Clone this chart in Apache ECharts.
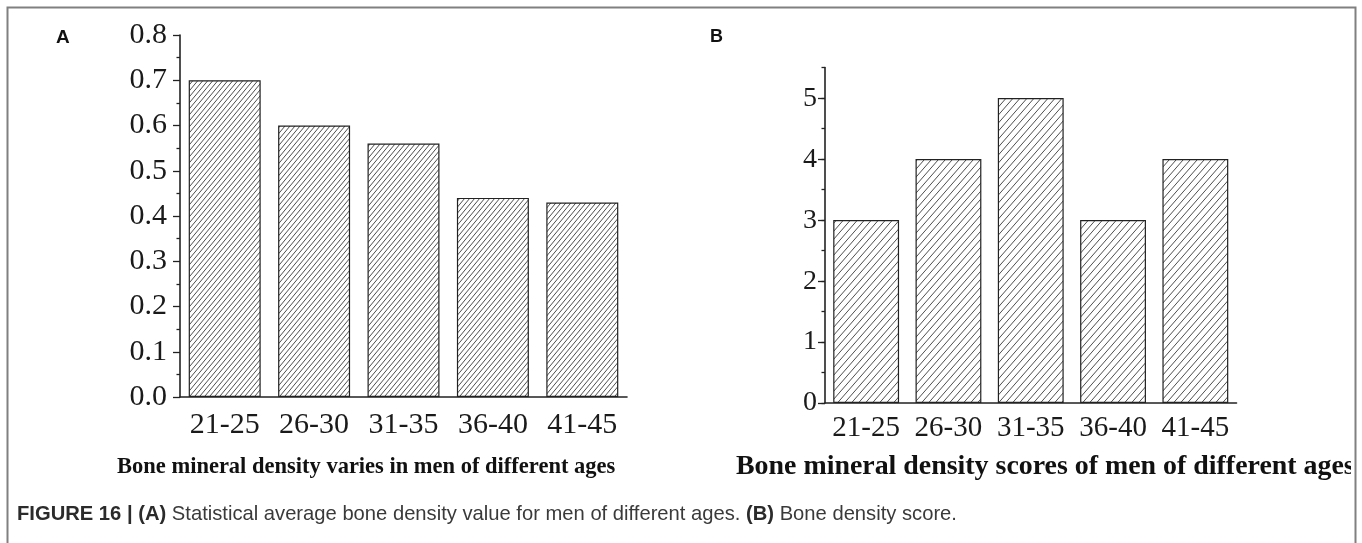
<!DOCTYPE html>
<html>
<head>
<meta charset="utf-8">
<script src="https://cdn.jsdelivr.net/npm/echarts@6/dist/echarts.min.js"></script>
<style>
html,body{margin:0;padding:0;background:#fff;}
#chart{width:1362px;height:543px;}
</style>
</head>
<body>
<div id="chart"></div>
<script>
// ---- data ----
const ageGroups = ['21-25', '26-30', '31-35', '36-40', '41-45'];
const densityValues = [0.70, 0.60, 0.56, 0.44, 0.43];
const densityScores = [3, 4, 5, 3, 4];
const titleA = 'Bone mineral density varies in men of different ages';
const titleB = 'Bone mineral density scores of men of different ages';
const captionBold1 = 'FIGURE 16 | (A)';
const captionText1 = ' Statistical average bone density value for men of different ages. ';
const captionBold2 = '(B)';
const captionText2 = ' Bone density score.';

function hatch(w, h, color) {
  const c = document.createElement('canvas');
  c.width = w; c.height = h;
  const ctx = c.getContext('2d');
  ctx.fillStyle = '#fff';
  ctx.fillRect(0, 0, w, h);
  ctx.strokeStyle = color;
  ctx.lineWidth = 0.9;
  ctx.beginPath();
  ctx.moveTo(-w, 2 * h); ctx.lineTo(2 * w, -h);
  ctx.moveTo(-w, h); ctx.lineTo(w, -h);
  ctx.moveTo(0, 2 * h); ctx.lineTo(2 * w, 0);
  ctx.stroke();
  return c;
}

const serif = '"Liberation Serif", "Times New Roman", serif';
const sans = '"Liberation Sans", Arial, sans-serif';
const axisCol = '#222';

const chart = echarts.init(document.getElementById('chart'), null, {renderer: 'canvas'});

const option = {
  backgroundColor: '#fff',
  animation: false,
  grid: [
    {left: 180, top: 35, width: 447, height: 362},
    {left: 825, top: 67.5, width: 411.5, height: 335.5},
    {left: 825, top: 98.5, width: 411.5, height: 304.5}
  ],
  xAxis: [
    {type: 'category', gridIndex: 0, data: ageGroups,
     axisLine: {lineStyle: {color: axisCol, width: 1.6}},
     axisTick: {alignWithLabel: true, length: 6, lineStyle: {color: axisCol, width: 1.3}},
     axisLabel: {interval: 0, hideOverlap: false, fontFamily: serif, fontSize: 30, color: '#1a1a1a', margin: 13}},
    {type: 'category', gridIndex: 0, data: ageGroups,
     axisLine: {show: false},
     axisTick: {interval: 0, length: 3, lineStyle: {color: axisCol, width: 1.3}},
     axisLabel: {show: false}},
    {type: 'category', gridIndex: 1, data: ageGroups,
     axisLine: {lineStyle: {color: axisCol, width: 1.6}},
     axisTick: {alignWithLabel: true, length: 6, lineStyle: {color: axisCol, width: 1.3}},
     axisLabel: {interval: 0, hideOverlap: false, fontFamily: serif, fontSize: 29, color: '#1a1a1a', margin: 11}},
    {type: 'category', gridIndex: 1, data: ageGroups,
     axisLine: {show: false},
     axisTick: {interval: 0, length: 3, lineStyle: {color: axisCol, width: 1.3}},
     axisLabel: {show: false}},
    {type: 'value', gridIndex: 2, show: false, min: 0, max: 1}
  ],
  yAxis: [
    {type: 'value', gridIndex: 0, min: 0, max: 0.8, interval: 0.1,
     axisLine: {show: true, lineStyle: {color: axisCol, width: 1.6}},
     axisTick: {show: true, length: 7, lineStyle: {color: axisCol, width: 1.3}},
     minorTick: {show: true, splitNumber: 2, length: 3.5, lineStyle: {color: axisCol, width: 1.3}},
     splitLine: {show: false},
     axisLabel: {fontFamily: serif, fontSize: 30, color: '#1a1a1a', margin: 13,
                 formatter: v => v.toFixed(1)}},
    {type: 'value', gridIndex: 1, min: 0, max: 5.5, interval: 0.5,
     axisLine: {show: true, lineStyle: {color: axisCol, width: 1.6}},
     axisTick: {show: true, length: 3.5, lineStyle: {color: axisCol, width: 1.3}},
     splitLine: {show: false},
     axisLabel: {show: false}},
    {type: 'value', gridIndex: 2, min: 0, max: 5, interval: 1,
     axisLine: {show: false},
     axisTick: {show: true, length: 7, lineStyle: {color: axisCol, width: 1.3}},
     splitLine: {show: false},
     axisLabel: {fontFamily: serif, fontSize: 28, color: '#1a1a1a', margin: 8}}
  ],
  series: [
    {type: 'bar', xAxisIndex: 0, yAxisIndex: 0, data: densityValues,
     barCategoryGap: '19.5%',
     itemStyle: {color: {image: hatch(5, 6, '#3a3a3a'), repeat: 'repeat'},
                 borderColor: '#222', borderWidth: 1.2}},
    {type: 'bar', xAxisIndex: 2, yAxisIndex: 1, data: densityScores,
     barCategoryGap: '20%',
     itemStyle: {color: {image: hatch(7, 8, '#3a3a3a'), repeat: 'repeat'},
                 borderColor: '#222', borderWidth: 1.2}}
  ],
  graphic: [
    {type: 'text', x: 117, y: 467, z: 10,
     style: {text: titleA, font: 'bold 22.5px ' + serif, fill: '#111', align: 'left', verticalAlign: 'middle'}},
    {type: 'text', x: 736, y: 467, z: 10,
     style: {text: titleB, font: 'bold 27.9px ' + serif, fill: '#111', align: 'left', verticalAlign: 'middle'}},
    {type: 'rect', z: 11, shape: {x: 1351, y: 440, width: 11, height: 50}, style: {fill: '#fff'}},
    {type: 'text', x: 56, y: 38, z: 10,
     style: {text: 'A', font: 'bold 19px ' + sans, fill: '#111', align: 'left', verticalAlign: 'middle'}},
    {type: 'text', x: 710, y: 37, z: 10,
     style: {text: 'B', font: 'bold 18px ' + sans, fill: '#111', align: 'left', verticalAlign: 'middle'}},
    {type: 'text', x: 17, y: 514, z: 10,
     style: {
       text: '{b|' + captionBold1 + '}{n|' + captionText1 + '}{b|' + captionBold2 + '}{n|' + captionText2 + '}',
       verticalAlign: 'middle', align: 'left',
       rich: {
         b: {font: 'bold 20.2px ' + sans, fill: '#2b2b2b'},
         n: {font: '20.2px ' + sans, fill: '#3a3a3a'}
       }
     }},
    {type: 'polyline', z: 12,
     shape: {points: [[7.5, 560], [7.5, 7.5], [1355.5, 7.5], [1355.5, 560]]},
     style: {stroke: '#808080', lineWidth: 2, fill: null}}
  ]
};
chart.setOption(option);
</script>
</body>
</html>
